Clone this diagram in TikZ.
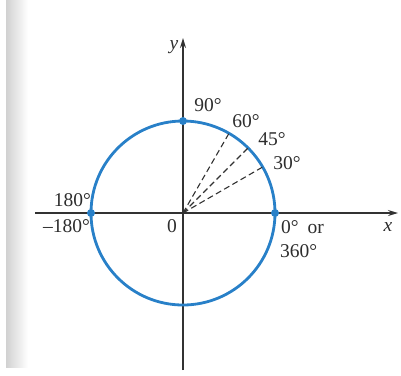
\documentclass[tikz,border=0pt]{standalone}
\usepackage{fontspec}
\setmainfont{Liberation Serif}
\usetikzlibrary{arrows.meta}
\definecolor{circblue}{RGB}{40,128,200}
\definecolor{axisgray}{RGB}{50,50,50}
\definecolor{txt}{RGB}{45,45,45}
\tikzset{
  lbl/.style={font=\fontsize{19.5}{22}\selectfont, text=txt, inner sep=0pt},
  axis/.style={draw=axisgray, line width=1.3pt},
  ray/.style={draw=axisgray, line width=1.1pt, dash pattern=on 6pt off 3.5pt},
  dot/.style={circle, fill=circblue, inner sep=0pt, minimum size=8pt},
}
\begin{document}
\begin{tikzpicture}[x=1pt,y=-1pt]
\useasboundingbox (0,0) rectangle (401,375);
\fill[white] (0,0) rectangle (401,375);
\shade[left color=black!18, right color=white] (6,0) rectangle (28,367);
\coordinate (O) at (183,213);
\coordinate (xs) at (35,213);
\coordinate (xe) at (398,213);
\coordinate (ys) at (183,370);
\coordinate (ye) at (183,38);
\draw[axis, -{Stealth[length=10pt,width=6pt]}] (xs) -- (xe);
\draw[axis, -{Stealth[length=10pt,width=6pt]}] (ys) -- (ye);
\draw[circblue, line width=2.8pt] (O) circle[radius=92];
\draw[ray] (O) -- +(-30:92) coordinate (p30);
\draw[ray] (O) -- +(-45:92) coordinate (p45);
\draw[ray] (O) -- +(-60:92) coordinate (p60);
\node[dot] (d0) at (275,213) {};
\node[dot] (d90) at (183,121) {};
\node[dot] (d180) at (91,213) {};
\node[lbl] (ly) at (174,47) {\itshape y};
\node[lbl] (lx) at (388,227) {\itshape x};
\node[lbl] (l90) at (208,105) {90°};
\node[lbl] (l60) at (246,121) {60°};
\node[lbl] (l45) at (272,139) {45°};
\node[lbl] (l30) at (287,163) {30°};
\node[lbl, anchor=east] (l180) at (91,200) {180°};
\node[lbl, anchor=east] (lm180) at (90,226) {–180°};
\node[lbl] (l0) at (172,226) {0};
\node[lbl, anchor=west] (lor) at (281,227) {0°\hspace{9pt}or};
\node[lbl, anchor=west] (l360) at (280,251) {360°};
\end{tikzpicture}
\end{document}
